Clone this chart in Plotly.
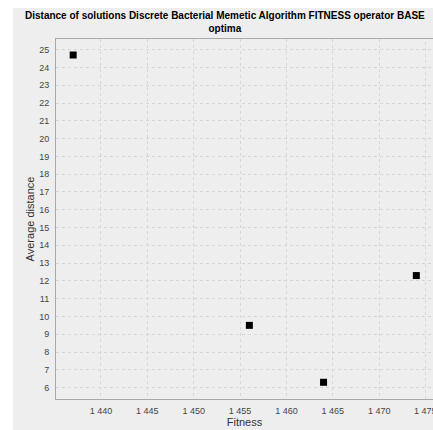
import plotly.graph_objects as go

fitness = [1437.0, 1456.0, 1464.0, 1474.0]
avg_distance = [24.7, 9.5, 6.3, 12.3]

x_ticks = [1440, 1445, 1450, 1455, 1460, 1465, 1470, 1475]
y_ticks = list(range(6, 26))

W, H = 433, 430
L, R, T, B = 56, 0, 39, 31
pw, ph = W - L - R, H - T - B


def px(x):
    return (x - L) / pw


def py(y):
    return (H - B - y) / ph


fig = go.Figure()
fig.add_trace(go.Scatter(
    x=fitness, y=avg_distance, mode="markers",
    marker=dict(symbol="square", size=7, color="black"),
    showlegend=False, hoverinfo="skip",
))

font_family = "Liberation Sans, Arial, sans-serif"

# last tick label is cut by the window edge in the reference; plotly drops it, so draw it as text
last_tick = x_ticks[-1]
last_label = f"{last_tick:,}".replace(",", " ")

fig.update_layout(
    width=W, height=H,
    margin=dict(l=L, r=R, t=T, b=B, pad=0),
    paper_bgcolor="white",
    plot_bgcolor="white",
    separators=". ",
    font=dict(family=font_family, size=9, color="#333333"),
    shapes=[dict(type="rect", xref="paper", yref="paper",
                 x0=px(13), x1=1.2, y0=-0.3, y1=py(8),
                 fillcolor="#eeeeee", line=dict(width=0), layer="below")],
    annotations=[
        dict(
            text="<b>Distance of solutions Discrete Bacterial Memetic Algorithm FITNESS operator BASE<br>optima</b>",
            xref="paper", yref="paper", x=px(225), y=py(22.5),
            xanchor="center", yanchor="middle", showarrow=False,
            font=dict(family=font_family, size=10, color="black"),
        ),
        dict(
            text=last_label, xref="x", yref="paper", x=last_tick, y=0,
            xanchor="center", yanchor="top", yshift=-6, borderpad=0, showarrow=False,
            font=dict(family=font_family, size=9, color="#444444"),
        ),
    ],
    xaxis=dict(
        range=[1435.15, 1475.8],
        tickvals=x_ticks[:-1], tickformat=",d",
        showgrid=True, gridcolor="#d6d6d6", griddash="dot", gridwidth=1,
        showline=True, linecolor="#a8a8a8", linewidth=1, mirror=True,
        ticks="", ticklabelstandoff=3, zeroline=False,
        title=dict(text="Fitness", font=dict(size=11, color="#333333"), standoff=3),
        tickfont=dict(size=9, color="#444444"),
    ),
    yaxis=dict(
        range=[5.36, 25.6],
        tickvals=y_ticks,
        showgrid=True, gridcolor="#d6d6d6", griddash="dot", gridwidth=1,
        showline=True, linecolor="#a8a8a8", linewidth=1, mirror=True,
        ticks="", ticklabelstandoff=4, zeroline=False,
        title=dict(text="Average distance", font=dict(size=11, color="#333333"), standoff=2),
        tickfont=dict(size=9, color="#444444"),
    ),
)

fig.add_vline(x=last_tick, line=dict(color="#d6d6d6", width=1, dash="dot"), layer="below")

fig.write_html("out.html")
